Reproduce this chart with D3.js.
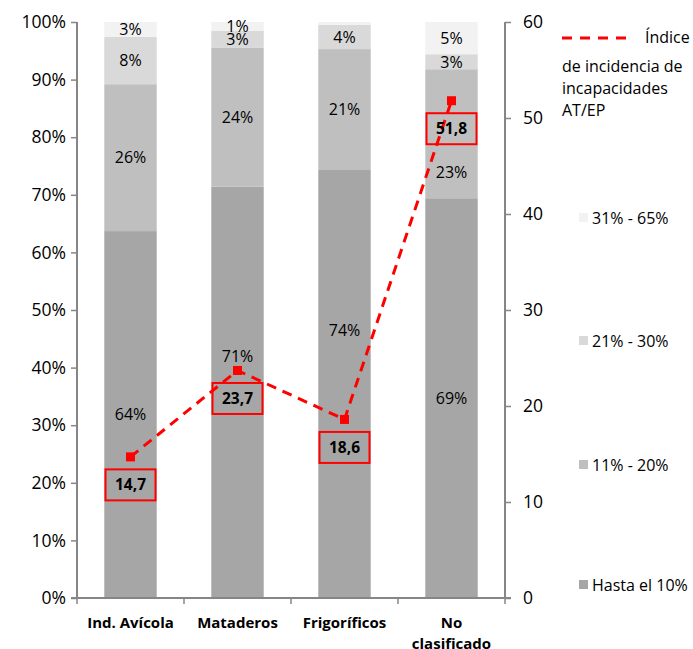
<!DOCTYPE html>
<html lang="es">
<head>
	<meta charset="utf-8">
	<title>Incapacidades AT/EP</title>
	<script src="https://d3js.org/d3.v7.min.js"></script>
	<style>
		body {margin:0; background:#fff;}
		svg text {font-family:"Open Sans", sans-serif; fill:#000;}
	</style>
</head>
<body>
	<div id="chart"></div>
	<script>
		// categories and series
		const categories = ["Ind. Avícola", "Mataderos", "Frigoríficos", "No clasificado"];
		const seriesNames = ["Hasta el 10%", "11% - 20%", "21% - 30%", "31% - 65%"];
		const hasta10 = [63.7, 71.4, 74.3, 69.4];
		const p11a20 = [25.5, 24.1, 21.0, 22.4];
		const p21a30 = [8.2, 3.0, 4.2, 2.6];
		const p31a65 = [2.6, 1.5, 0.5, 5.6];
		const segLabels = [
			["64%", "26%", "8%", "3%"],
			["71%", "24%", "3%", "1%"],
			["74%", "21%", "4%", ""],
			["69%", "23%", "3%", "5%"]
		];
		// a few labels were moved by hand in the original (percent units on left axis)
		const labelMoved = {"1-0": 42, "2-0": 46.5, "3-1": 74};
		const indice = [14.7, 23.7, 18.6, 51.8];
		const lineName = "Índice de incidencia de incapacidades AT/EP";
		const leftTicks = [0, 10, 20, 30, 40, 50, 60, 70, 80, 90, 100];
		const rightTicks = [0, 10, 20, 30, 40, 50, 60];

		const colors = ["#a6a6a6", "#bfbfbf", "#d9d9d9", "#f2f2f2"];
		const axisColor = "#868686";
		const red = "#ff0000";

		const width = 693, height = 649;
		const margin = {left: 77, right: 188, top: 22, bottom: 51};
		const plotW = width - margin.left - margin.right;
		const plotH = height - margin.top - margin.bottom;

		const svg = d3.select("#chart").append("svg")
			.attr("width", width)
			.attr("height", height);

		const g = svg.append("g")
			.attr("transform", "translate(" + margin.left + "," + margin.top + ")");

		const x = d3.scaleBand().domain(categories).range([0, plotW]).padding(0);
		const yL = d3.scaleLinear().domain([0, 100]).range([plotH, 0]);
		const yR = d3.scaleLinear().domain([0, 60]).range([plotH, 0]);
		const barW = x.bandwidth() * 0.49;

		// stack the series
		const rows = categories.map(function (c, i) {
			return {cat: c, s0: hasta10[i], s1: p11a20[i], s2: p21a30[i], s3: p31a65[i]};
		});
		const stacked = d3.stack().keys(["s0", "s1", "s2", "s3"])(rows);

		stacked.forEach(function (layer, k) {
			g.selectAll(".bar" + k)
				.data(layer)
				.enter()
				.append("rect")
				.attr("x", function (d) { return x(d.data.cat) + (x.bandwidth() - barW) / 2; })
				.attr("y", function (d) { return yL(d[1]); })
				.attr("width", barW)
				.attr("height", function (d) { return yL(d[0]) - yL(d[1]); })
				.attr("fill", colors[k]);
		});

		// labels inside the segments
		stacked.forEach(function (layer, k) {
			layer.forEach(function (d, i) {
				const txt = segLabels[i][k];
				if (!txt) return;
				let pos = (d[0] + d[1]) / 2;
				if (labelMoved[i + "-" + k] !== undefined) pos = labelMoved[i + "-" + k];
				g.append("text")
					.attr("x", x(d.data.cat) + x.bandwidth() / 2)
					.attr("y", yL(pos))
					.attr("dy", "0.36em")
					.attr("text-anchor", "middle")
					.style("font-size", "16px")
					.text(txt);
			});
		});

		// left axis
		const axL = g.append("g")
			.call(d3.axisLeft(yL).tickValues(leftTicks).tickSize(6).tickPadding(5)
				.tickFormat(function (d) { return d + "%"; }));
		// right axis
		const axR = g.append("g")
			.attr("transform", "translate(" + plotW + ",0)")
			.call(d3.axisRight(yR).tickValues(rightTicks).tickSize(6).tickPadding(12));
		[axL, axR].forEach(function (ax) {
			ax.select(".domain").attr("stroke", axisColor).attr("stroke-width", 2)
				.attr("d", "M0,0V" + plotH);
			ax.selectAll(".tick line").attr("stroke", axisColor).attr("stroke-width", 1.5);
			ax.selectAll("text").style("font-size", "17.5px").attr("fill", "#000");
		});

		// bottom axis
		const axB = g.append("g")
			.attr("transform", "translate(0," + plotH + ")");
		axB.append("line")
			.attr("x1", -6).attr("x2", plotW + 6)
			.attr("stroke", axisColor).attr("stroke-width", 2);
		const bTicks = categories.map(function (c) { return x(c); }).concat([plotW]);
		axB.selectAll(".ctick")
			.data(bTicks)
			.enter()
			.append("line")
			.attr("x1", function (d) { return d; })
			.attr("x2", function (d) { return d; })
			.attr("y1", 0).attr("y2", 6)
			.attr("stroke", axisColor).attr("stroke-width", 1.5);
		categories.forEach(function (c) {
			const words = c === "No clasificado" ? ["No", "clasificado"] : [c];
			const t = axB.append("text")
				.attr("x", x(c) + x.bandwidth() / 2)
				.attr("y", 30)
				.attr("text-anchor", "middle")
				.style("font-size", "15px")
				.style("font-weight", "bold");
			words.forEach(function (w, j) {
				t.append("tspan")
					.attr("x", x(c) + x.bandwidth() / 2)
					.attr("dy", j === 0 ? 0 : 21)
					.text(w);
			});
		});

		// index line
		const line = d3.line()
			.x(function (d, i) { return x(categories[i]) + x.bandwidth() / 2; })
			.y(function (d) { return yR(d); });
		g.append("path")
			.datum(indice)
			.attr("d", line)
			.attr("fill", "none")
			.attr("stroke", red)
			.attr("stroke-width", 3)
			.attr("stroke-dasharray", "10,7");
		g.selectAll(".mark")
			.data(indice)
			.enter()
			.append("rect")
			.attr("x", function (d, i) { return x(categories[i]) + x.bandwidth() / 2 - 4.5; })
			.attr("y", function (d) { return yR(d) - 4.5; })
			.attr("width", 9).attr("height", 9)
			.attr("fill", red);

		// value boxes
		const boxes = g.selectAll(".vbox")
			.data(indice)
			.enter()
			.append("g")
			.attr("transform", function (d, i) {
				return "translate(" + (x(categories[i]) + x.bandwidth() / 2) + "," + (yR(d) + 28) + ")";
			});
		boxes.append("rect")
			.attr("x", -25).attr("y", -15.5)
			.attr("width", 50).attr("height", 31)
			.attr("fill", "none")
			.attr("stroke", red)
			.attr("stroke-width", 2);
		boxes.append("text")
			.attr("text-anchor", "middle")
			.attr("dy", "0.36em")
			.style("font-size", "15.5px")
			.style("font-weight", "bold")
			.text(function (d) { return d3.format(".1f")(d).replace(".", ","); });

		// legend
		const leg = svg.append("g");
		leg.append("line")
			.attr("x1", 562).attr("x2", 626)
			.attr("y1", 38).attr("y2", 38)
			.attr("stroke", red).attr("stroke-width", 3)
			.attr("stroke-dasharray", "10,8");
		const legLines = ["Índice", "de incidencia de", "incapacidades", "AT/EP"];
		const legText = leg.append("text").style("font-size", "16px");
		legLines.forEach(function (l, j) {
			legText.append("tspan")
				.attr("x", j === 0 ? 645 : 562)
				.attr("y", [43, 72, 94, 116][j])
				.text(l);
		});
		const legY = [585, 465, 341, 218];
		seriesNames.forEach(function (s, k) {
			leg.append("rect")
				.attr("x", 579).attr("y", legY[k] - 5)
				.attr("width", 9).attr("height", 9)
				.attr("fill", colors[k]);
			leg.append("text")
				.attr("x", 592).attr("y", legY[k])
				.attr("dy", "0.36em")
				.style("font-size", "16px")
				.text(s);
		});
	</script>
</body>
</html>
